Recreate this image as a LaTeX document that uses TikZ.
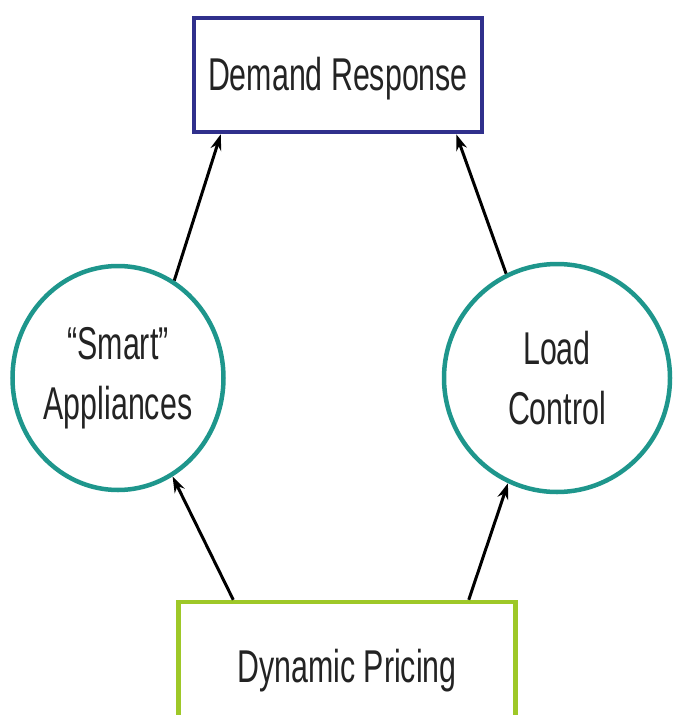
\documentclass[tikz,border=0pt]{standalone}
\usepackage{fontspec}
\newfontfamily\diagfont[FakeStretch=0.66]{Liberation Sans}
\usepackage{tikz}
\usetikzlibrary{shapes.geometric,arrows.meta,positioning}
\definecolor{navyline}{RGB}{48,48,140}
\definecolor{limeline}{RGB}{158,200,40}
\definecolor{tealline}{RGB}{30,150,140}
\definecolor{inkgray}{RGB}{35,35,35}

\begin{document}
\begin{tikzpicture}[x=1pt,y=1pt,
  box/.style={rectangle,draw,line width=4.5pt,inner sep=0pt,text=inkgray,
              text height=40pt,text depth=9pt,
              font=\diagfont\fontsize{46}{60}\selectfont},
  blob/.style={ellipse,draw=tealline,line width=4.5pt,inner sep=0pt,align=center,
               text=inkgray,font=\diagfont\fontsize{46}{60}\selectfont},
  arr/.style={-{Stealth[length=16pt,width=11pt]},line width=3pt,color=black}
]
  \useasboundingbox (0,0) rectangle (673,-715);
  \node[box,draw=navyline,minimum width=288pt,minimum height=114pt] (dr) at (338,-75) {Demand Response};
  \node[blob,minimum width=211pt,minimum height=224pt] (smart) at (118,-378) {“Smart”\\Appliances};
  \node[blob,minimum width=226pt,minimum height=228pt] (load) at (557,-378) {Load\\Control};
  \node[box,draw=limeline,minimum width=337pt,minimum height=130pt] (dp) at (347,-667) {Dynamic Pricing};
  \draw[arr] (smart.60) -- ([xshift=29pt]dr.south west);
  \draw[arr] (load.116) -- ([xshift=-28pt]dr.south east);
  \draw[arr] ([xshift=57pt]dp.north west) -- (smart.-61);
  \draw[arr] ([xshift=-49pt]dp.north east) -- (load.-115);
\end{tikzpicture}
\end{document}
